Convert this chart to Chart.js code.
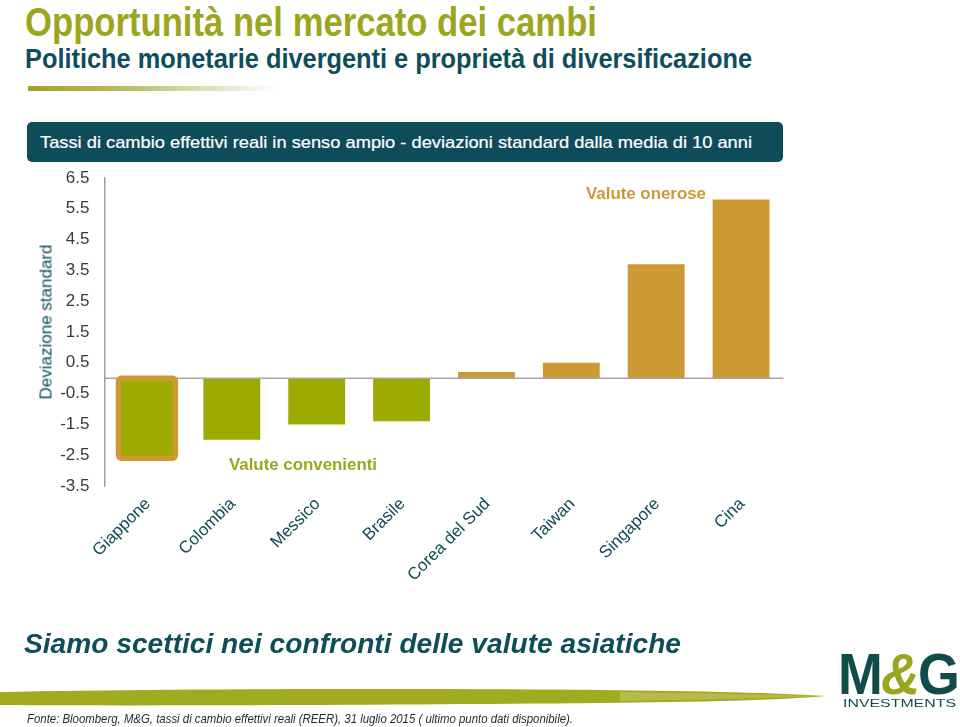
<!DOCTYPE html>
<html>
<head>
<meta charset="utf-8">
<script src="https://cdn.jsdelivr.net/npm/chart.js@4.4.1/dist/chart.umd.min.js"></script>
<style>
  html, body { margin:0; padding:0; background:#fff; }
  body { width:960px; height:727px; position:relative; overflow:hidden; font-family:"Liberation Sans", Arial, sans-serif; }
  .t { position:absolute; white-space:nowrap; transform-origin:0 50%; line-height:1; }
  #c { position:absolute; left:0; top:0; }
</style>
</head>
<body>
<script>
// ---- data ----
const categories = ['Giappone', 'Colombia', 'Messico', 'Brasile', 'Corea del Sud', 'Taiwan', 'Singapore', 'Cina'];
const deviations = [-2.6, -2.0, -1.5, -1.4, 0.2, 0.5, 3.7, 5.8];
const yTicks = [-3.5, -2.5, -1.5, -0.5, 0.5, 1.5, 2.5, 3.5, 4.5, 5.5, 6.5];
const highlighted = ['Giappone'];
</script>

<div class="t" id="title" data-w="572" style="left:25px; top:2px; font-size:40px; font-weight:bold; color:#9CA51E;">Opportunità nel mercato dei cambi</div>
<div class="t" id="sub" data-w="727" style="left:25px; top:46px; font-size:27px; font-weight:bold; color:#0E4E5B;">Politiche monetarie divergenti e proprietà di diversificazione</div>
<div style="position:absolute; left:28px; top:86px; width:250px; height:5px; background:linear-gradient(to right, #9CA51E 0%, #b9bd6a 40%, rgba(255,255,255,0) 100%);"></div>

<div style="position:absolute; left:27px; top:122px; width:756px; height:40px; background:#0F4C5A; border-radius:5px;"></div>
<div class="t" id="hdr" data-w="712" style="left:40px; top:134px; font-size:17px; color:#fff; -webkit-text-stroke:0.2px #fff;">Tassi di cambio effettivi reali in senso ampio - deviazioni standard dalla media di 10 anni</div>

<canvas id="c" width="960" height="727"></canvas>

<div class="t" id="ytitle" style="left:46px; top:322px; font-size:17px; color:#0E4E5B; transform-origin:50% 50%; transform:translate(-50%,-50%) rotate(-90deg);">Deviazione standard</div>
<div class="t" id="ann1" data-w="120" style="left:586px; top:186px; font-size:16px; font-weight:bold; color:#C9993A;">Valute onerose</div>
<div class="t" id="ann2" data-w="148" style="left:229px; top:457px; font-size:16px; font-weight:bold; color:#9CA51E;">Valute convenienti</div>

<div class="t" id="foot" data-w="657" style="left:24px; top:630px; font-size:28px; font-weight:bold; font-style:italic; color:#0E4E5B;">Siamo scettici nei confronti delle valute asiatiche</div>

<svg style="position:absolute; left:0; top:680px;" width="830" height="30">
  <path d="M0,12 C150,9 400,8 600,10 C700,11 780,13 826,16 C780,20 700,22 600,23 C400,25 150,26 0,25 Z" fill="#A2AB1F"/>
  <path d="M620,12 C700,13 770,15 826,16 C770,18 700,20 620,21 Z" fill="#C5CB7A" opacity="0.5"/>
</svg>
<div class="t" id="src" data-w="546" style="left:27px; top:712px; font-size:13px; font-style:italic; color:#1b2a30;">Fonte: Bloomberg, M&amp;G, tassi di cambio effettivi reali (REER), 31 luglio 2015 ( ultimo punto dati disponibile).</div>

<div class="t" id="logo" data-w="120" style="left:838px; top:645px; font-size:58px; font-weight:bold; letter-spacing:-2px; color:#0F4C4A;">M<span style="color:#9CA51E; font-style:italic;">&amp;</span>G</div>
<div class="t" id="inv" data-w="113" style="left:843px; top:698px; font-size:11px; color:#0F4C4A;">INVESTMENTS</div>

<script>
document.querySelectorAll('.t[data-w]').forEach(el => {
  const w = parseFloat(el.dataset.w);
  const r = el.getBoundingClientRect().width;
  el.style.transform = 'scaleX(' + (w / r) + ')';
});

const GREEN = '#9DAA00';
const GOLD = '#CC9933';

const overlay = {
  id: 'overlay',
  afterDatasetsDraw(chart) {
    const ctx = chart.ctx;
    const y = chart.scales.y;
    const area = chart.chartArea;
    const y0 = y.getPixelForValue(0);
    ctx.save();
    ctx.strokeStyle = '#A6A6A6';
    ctx.lineWidth = 1.5;
    ctx.beginPath();
    ctx.moveTo(area.left, y0);
    ctx.lineTo(area.right, y0);
    ctx.stroke();
    const meta = chart.getDatasetMeta(0);
    meta.data.forEach((bar, i) => {
      if (!highlighted.includes(categories[i])) return;
      const p = bar.getProps(['x', 'y', 'base', 'width'], true);
      const top = Math.min(p.y, p.base), bot = Math.max(p.y, p.base);
      ctx.strokeStyle = GOLD;
      ctx.lineWidth = 5.5;
      ctx.beginPath();
      ctx.roundRect(p.x - p.width / 2, top, p.width, bot - top, 3);
      ctx.stroke();
    });
    ctx.restore();
  }
};

new Chart(document.getElementById('c'), {
  type: 'bar',
  data: {
    labels: categories,
    datasets: [{
      data: deviations,
      backgroundColor: ctx => (ctx.raw < 0 ? GREEN : GOLD),
      borderWidth: 0,
      barPercentage: 0.67,
      categoryPercentage: 1.0
    }]
  },
  options: {
    responsive: false,
    animation: false,
    devicePixelRatio: 1,
    layout: { padding: { left: 0, right: 176.5, top: 178, bottom: 141 } },
    plugins: { legend: { display: false }, tooltip: { enabled: false } },
    scales: {
      x: {
        grid: { display: false, drawTicks: false },
        border: { display: false },
        ticks: {
          color: '#0F4B56',
          font: { family: '"Liberation Sans", Arial, sans-serif', size: 17 },
          minRotation: 45, maxRotation: 45,
          padding: 8,
          labelOffset: 1
        },
        afterFit(s) { s.height = 100; }
      },
      y: {
        min: -3.5, max: 6.5,
        grid: { display: false, drawTicks: false },
        border: { display: true, color: '#A0A0A0', width: 1.5 },
        ticks: {
          color: '#3A3A3A',
          font: { family: '"Liberation Sans", Arial, sans-serif', size: 17 },
          padding: 15,
          callback: v => v.toFixed(1)
        },
        afterBuildTicks(s) { s.ticks = yTicks.map(v => ({ value: v })); },
        afterFit(s) { s.width = 104.5; }
      }
    }
  },
  plugins: [overlay]
});
</script>
</body>
</html>
